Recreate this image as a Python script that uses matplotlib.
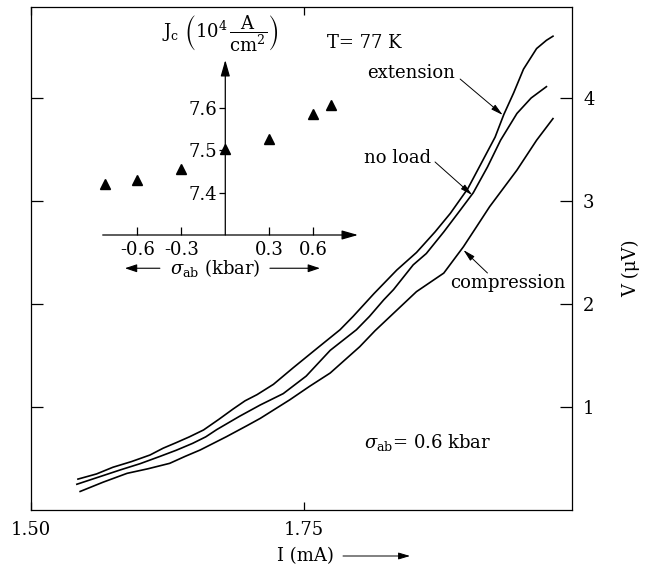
import matplotlib
matplotlib.use("Agg")
import matplotlib.pyplot as plt

plt.rcParams['font.family'] = ['DejaVu Serif']
plt.rcParams['mathtext.fontset'] = 'dejavuserif'
plt.rcParams['font.size'] = 13

# V-I curves (I in mA, V in uV)
ext_I = [1.543, 1.560, 1.575, 1.592, 1.609, 1.621, 1.633, 1.645, 1.658, 1.672, 1.685, 1.696,
         1.707, 1.722, 1.740, 1.762, 1.783, 1.795, 1.814, 1.835, 1.853, 1.870, 1.884, 1.900,
         1.914, 1.925, 1.933, 1.942, 1.951, 1.963, 1.972, 1.978]
ext_V = [0.30, 0.35, 0.415, 0.47, 0.534, 0.60, 0.654, 0.71, 0.777, 0.88, 0.98, 1.06,
         1.12, 1.22, 1.38, 1.57, 1.75, 1.88, 2.10, 2.33, 2.50, 2.70, 2.88, 3.12,
         3.40, 3.62, 3.84, 4.05, 4.28, 4.48, 4.56, 4.60]

nl_I = [1.542, 1.562, 1.582, 1.600, 1.618, 1.633, 1.648, 1.660, 1.670, 1.691, 1.710, 1.731,
        1.752, 1.774, 1.798, 1.810, 1.823, 1.832, 1.850, 1.862, 1.878, 1.893, 1.905, 1.918,
        1.930, 1.945, 1.958, 1.972]
nl_V = [0.25, 0.32, 0.39, 0.45, 0.52, 0.58, 0.647, 0.71, 0.78, 0.91, 1.02, 1.13,
        1.30, 1.55, 1.75, 1.88, 2.04, 2.14, 2.38, 2.49, 2.70, 2.91, 3.08, 3.33,
        3.59, 3.85, 4.00, 4.11]

cp_I = [1.545, 1.566, 1.588, 1.607, 1.627, 1.641, 1.655, 1.679, 1.698, 1.710, 1.737, 1.755,
        1.774, 1.801, 1.815, 1.832, 1.853, 1.878, 1.896, 1.908, 1.920, 1.945, 1.963, 1.978]
cp_V = [0.18, 0.27, 0.356, 0.40, 0.453, 0.52, 0.583, 0.712, 0.82, 0.89, 1.07, 1.20,
        1.33, 1.585, 1.74, 1.91, 2.12, 2.30, 2.556, 2.75, 2.945, 3.30, 3.59, 3.80]

# inset: critical current density vs stress
sigma = [-0.82, -0.6, -0.3, 0.0, 0.3, 0.6, 0.72]
jc = [7.42, 7.43, 7.456, 7.503, 7.525, 7.585, 7.605]

fig = plt.figure(figsize=(6.45, 5.66), dpi=100)
W, H = 645, 566

ax = fig.add_axes([31 / W, 56 / H, 541 / W, 503 / H])
for I, V in [(ext_I, ext_V), (nl_I, nl_V), (cp_I, cp_V)]:
    ax.plot(I, V, color='black', lw=1.2)

ax.set_xlim(1.5, 1.5 + 541 / 1092)
ax.set_ylim(0, 503 / 103)
ax.set_xticks([1.50, 1.75])
ax.set_xticklabels(['1.50', '1.75'])
ax.set_yticks([1, 2, 3, 4])
ax.set_yticklabels(['1', '2', '3', '4'])
ax.tick_params(axis='x', direction='in', length=6, width=0.9, top=True, pad=8)
ax.tick_params(axis='y', direction='in', length=8.5, width=0.9, left=True, right=True,
               labelleft=False, labelright=True, pad=8)
for s in ax.spines.values():
    s.set_linewidth(0.9)

# axis labels
fig.text(305 / W, 10 / H, 'I (mA)', ha='center', va='center')
ax.annotate('', xy=(410, 10), xytext=(343, 10), xycoords='figure pixels',
            arrowprops=dict(arrowstyle='-|>,head_length=0.5,head_width=0.15', color='black',
                            lw=0.7, mutation_scale=14, shrinkA=0, shrinkB=0))
fig.text(631 / W, (H - 268) / H, 'V (μV)', rotation=90, ha='center', va='center')

# annotations
ax.text(1.771, 4.534, 'T= 77 K', ha='left', va='center')
ax.text(1.8045, 0.66, r'$\sigma_{\rm ab}$= 0.6 kbar', ha='left', va='center')

arr = dict(arrowstyle='-|>,head_length=0.6,head_width=0.15', color='black', lw=0.7,
           mutation_scale=12, shrinkA=0, shrinkB=0)
ax.text(1.848, 4.243, 'extension', ha='center', va='center')
ax.annotate('', xy=(1.932, 3.835), xytext=(1.893, 4.184), arrowprops=arr)
ax.text(1.836, 3.417, 'no load', ha='center', va='center')
ax.annotate('', xy=(1.904, 3.058), xytext=(1.870, 3.379), arrowprops=arr)
ax.text(1.937, 2.204, 'compression', ha='center', va='center')
ax.annotate('', xy=(1.896, 2.524), xytext=(1.918, 2.301), arrowprops=arr)

# inset
x0, x1 = 102.7, 358
y0, y1 = 235, 60
ins = fig.add_axes([x0 / W, (H - y0) / H, (x1 - x0) / W, (y0 - y1) / H])
ins.patch.set_visible(False)
ins.plot(sigma, jc, linestyle='none', marker='^', color='black', markersize=6.5, clip_on=False)
ins.set_xlim(-0.836, 0.905)
ins.set_ylim(7.30, 7.712)
ins.spines['left'].set_position(('data', 0))
for s in ins.spines.values():
    s.set_visible(False)
ins.set_xticks([-0.6, -0.3, 0.3, 0.6])
ins.set_xticklabels(['-0.6', '-0.3', '0.3', '0.6'])
ins.set_yticks([7.4, 7.5, 7.6])
ins.set_yticklabels(['7.4', '7.5', '7.6'])
ins.tick_params(axis='x', direction='in', length=6, width=0.9, pad=4)
ins.tick_params(axis='y', direction='out', length=4, width=0.9, pad=2)
axarr = dict(arrowstyle='-|>,head_length=0.7,head_width=0.2', color='black', lw=0.9,
             mutation_scale=14, shrinkA=0, shrinkB=0)
ins.annotate('', xy=(1, 0), xytext=(0, 0), xycoords='axes fraction', arrowprops=axarr)
ins.annotate('', xy=(0, 7.712), xytext=(0, 7.30), arrowprops=axarr)
ins.text(0.46, 1.15, r'$\mathrm{J_c}\ \left(10^4\,\dfrac{\mathrm{A}}{\mathrm{cm^2}}\right)$',
         transform=ins.transAxes, ha='center', va='center')
ins.text(0.44, -0.19, r'$\sigma_{\rm ab}$ (kbar)', transform=ins.transAxes,
         ha='center', va='center')
larr = dict(arrowstyle='-|>,head_length=0.6,head_width=0.2', color='black', lw=0.8,
            mutation_scale=12, shrinkA=0, shrinkB=0)
ins.annotate('', xy=(0.087, -0.19), xytext=(0.224, -0.19), xycoords='axes fraction', arrowprops=larr)
ins.annotate('', xy=(0.851, -0.19), xytext=(0.655, -0.19), xycoords='axes fraction', arrowprops=larr)

fig.savefig('out.png', dpi=100)
